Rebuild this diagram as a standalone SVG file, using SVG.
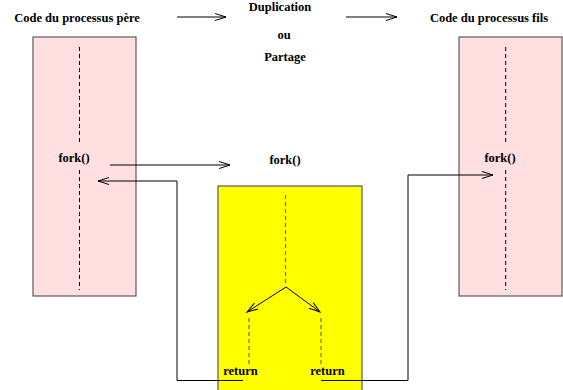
<svg xmlns="http://www.w3.org/2000/svg" width="563" height="390" viewBox="0 0 563 390">
  <defs>
    <marker id="open" markerUnits="userSpaceOnUse" markerWidth="14" markerHeight="10" refX="12" refY="4" orient="auto">
      <path d="M1,0.5 L12,4 L1,7.5" fill="none" stroke="#000" stroke-width="1"/>
    </marker>
    <style>
      text { font-family: "Liberation Serif", "Times New Roman", serif; font-weight: bold; font-size: 12.5px; fill: #000; text-anchor: middle; }
      .pink { fill: #ffdfdf; stroke: #5a5a5a; stroke-width: 1.2; }
      .yellow { fill: #ffff00; stroke: #5a5a5a; stroke-width: 1.2; }
      .dash { stroke: #000; stroke-width: 1; stroke-dasharray: 4 3; fill: none; }
      .dashy { stroke: #6e6e00; stroke-width: 1.2; stroke-dasharray: 4 3; fill: none; }
      .link { stroke: #000; stroke-width: 1; fill: none; marker-end: url(#open); }
    </style>
  </defs>
  <rect width="563" height="390" fill="#fff"/>

  <!-- Parent process code -->
  <g id="pere">
    <text x="77" y="22">Code du processus père</text>
    <rect class="pink" x="33" y="37" width="103" height="259"/>
    <line class="dash" x1="79.5" y1="47" x2="79.5" y2="145"/>
    <line class="dash" x1="79.5" y1="170" x2="79.5" y2="290"/>
    <text x="74" y="162">fork()</text>
  </g>

  <!-- Child process code -->
  <g id="fils">
    <text x="489" y="22">Code du processus fils</text>
    <rect class="pink" x="459" y="37" width="103" height="259"/>
    <line class="dash" x1="505.7" y1="47" x2="505.7" y2="145"/>
    <line class="dash" x1="505.7" y1="170" x2="505.7" y2="290"/>
    <text x="500" y="162">fork()</text>
  </g>

  <!-- Duplication / sharing labels -->
  <g id="duplication">
    <text x="280" y="11">Duplication</text>
    <text x="284" y="39">ou</text>
    <text x="285" y="61">Partage</text>
  </g>

  <!-- fork() system call -->
  <g id="fork">
    <text x="285" y="164">fork()</text>
    <rect class="yellow" x="218" y="186" width="144" height="212"/>
    <line class="dashy" x1="285.5" y1="195" x2="285.5" y2="284"/>
    <line class="dashy" x1="249" y1="318" x2="249" y2="366"/>
    <line class="dashy" x1="321" y1="318" x2="321" y2="366"/>
    <text x="240.5" y="375">return</text>
    <text x="327.5" y="375">return</text>
  </g>

  <!-- Connectors -->
  <g id="connectors">
    <line class="link" x1="177" y1="17" x2="226" y2="17"/>
    <line class="link" x1="346" y1="17" x2="397" y2="17"/>
    <line class="link" x1="110" y1="165" x2="230" y2="165"/>
    <polyline class="link" points="243,380.5 177,380.5 177,181 98,181"/>
    <polyline class="link" points="321,380.5 408,380.5 408,175 493,175"/>
    <line class="link" x1="286" y1="287" x2="247" y2="312"/>
    <line class="link" x1="286" y1="287" x2="320" y2="312"/>
  </g>
</svg>
